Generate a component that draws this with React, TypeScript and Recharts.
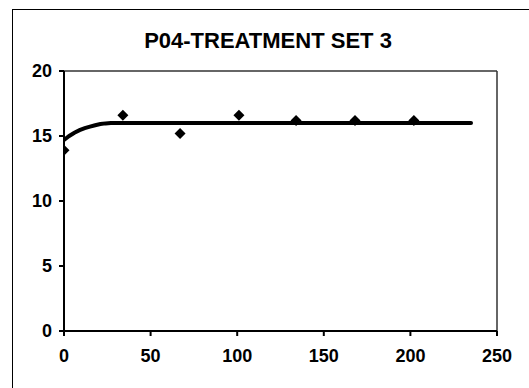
import React from "react"
import {
  ComposedChart,
  Line,
  Scatter,
  XAxis,
  YAxis,
  ReferenceLine,
} from "recharts"

// measured points
const timeValues = [0, 34, 67, 101, 134, 168, 202]
const p04Values = [13.9, 16.6, 15.2, 16.6, 16.2, 16.2, 16.2]

// fitted curve
const fitX = [0, 3, 6, 9, 12, 15, 18, 21, 24, 27, 30, 60, 100, 150, 200, 235]
const fitY = [14.7, 15.0, 15.25, 15.45, 15.6, 15.72, 15.83, 15.92, 15.97, 16.0, 16.0, 16.0, 16.0, 16.0, 16.0, 16.0]

const xTicks = [0, 50, 100, 150, 200, 250]
const yTicks = [0, 5, 10, 15, 20]

const points = timeValues.map((t, i) => ({ x: t, y: p04Values[i] }))
const fit = fitX.map((t, i) => ({ x: t, y: fitY[i] }))

const font = "'Liberation Sans', Arial, sans-serif"
const tickStyle = { fontSize: 18, fontWeight: "bold", fill: "#000", fontFamily: font }

const Diamond = (props: any) => {
  const { cx, cy } = props
  if (cx == null || cy == null) return null
  const r = 5.5
  return (
    <polygon
      points={`${cx},${cy - r} ${cx + r},${cy} ${cx},${cy + r} ${cx - r},${cy}`}
      fill="#000"
    />
  )
}

export default function App() {
  return (
    <div
      style={{
        position: "absolute",
        left: 0,
        top: 0,
        width: 529,
        height: 388,
        overflow: "hidden",
        background: "#fff",
      }}
    >
      <div
        style={{
          position: "absolute",
          left: 12,
          top: 9,
          width: 600,
          height: 500,
          borderLeft: "1px solid #000",
          borderTop: "1px solid #000",
        }}
      />
      <div
        style={{
          position: "absolute",
          left: 0,
          top: 28,
          width: 536,
          textAlign: "center",
          fontFamily: font,
          fontWeight: "bold",
          fontSize: 22,
          lineHeight: "26px",
        }}
      >
        P04-TREATMENT SET 3
      </div>
      <div style={{ position: "absolute", left: 0, top: 0 }}>
        <ComposedChart
          width={529}
          height={388}
          margin={{ top: 71, right: 32, bottom: 27, left: 20 }}
        >
          <XAxis
            type="number"
            dataKey="x"
            domain={[0, 250]}
            ticks={xTicks}
            interval={0}
            allowDataOverflow
            stroke="#000"
            strokeWidth={2}
            tickSize={5}
            tickMargin={13}
            height={30}
            tick={tickStyle}
          />
          <YAxis
            type="number"
            dataKey="y"
            domain={[0, 20]}
            ticks={yTicks}
            interval={0}
            allowDataOverflow
            stroke="#000"
            strokeWidth={2}
            tickSize={5}
            tickMargin={7}
            width={44}
            tick={tickStyle}
          />
          <ReferenceLine y={20} stroke="#333" strokeWidth={1.5} ifOverflow="visible" />
          <ReferenceLine x={250} stroke="#333" strokeWidth={1.5} ifOverflow="visible" />
          <Line
            data={fit}
            dataKey="y"
            type="linear"
            stroke="#000"
            strokeWidth={4}
            strokeLinecap="round"
            dot={false}
            activeDot={false}
            isAnimationActive={false}
          />
          <Scatter
            data={points}
            dataKey="y"
            shape={<Diamond />}
            isAnimationActive={false}
          />
        </ComposedChart>
      </div>
    </div>
  )
}
